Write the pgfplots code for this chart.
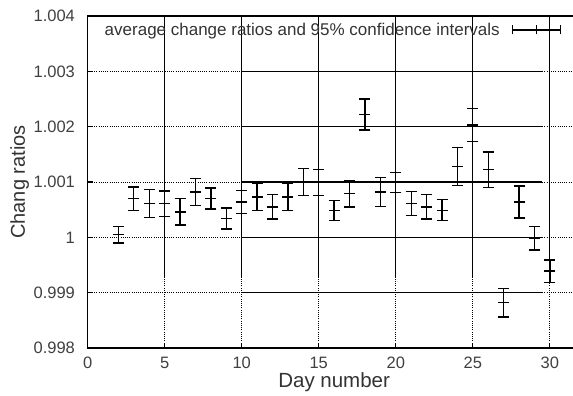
\documentclass[border=0pt]{standalone}
\usepackage{fontspec}
\setmainfont{Liberation Sans}
\usepackage{pgfplots}
\pgfplotsset{compat=1.18}
\usepackage{pgfplotstable}

\pgfplotstableread{
x y e
2 1.00005 0.00015
3 1.00070 0.00021
4 1.00061 0.00025
5 1.00061 0.00023
6 1.00046 0.00024
7 1.00082 0.00024
8 1.00070 0.00019
9 1.00034 0.00019
10 1.00064 0.00021
11 1.00073 0.00025
12 1.00055 0.00022
13 1.00073 0.00025
14 1.00100 0.00025
15 1.00099 0.00024
16 1.00049 0.00018
17 1.00079 0.00024
18 1.00222 0.00028
19 1.00082 0.00026
20 1.00099 0.00018
21 1.00061 0.00022
22 1.00055 0.00022
23 1.00049 0.00019
24 1.00128 0.00034
25 1.00203 0.00030
26 1.00122 0.00032
27 0.99882 0.00026
28 1.00064 0.00029
29 0.99998 0.00021
30 0.99939 0.00020
}\datatable

\tikzset{
  gd/.style={line width=0.9pt, dash pattern=on 0.9pt off 1.3pt, black},
  gs/.style={line width=1.1pt, black}
}

\begin{document}
\begin{tikzpicture}
\begin{axis}[
  scale only axis,
  width=493.1pt, height=332pt,
  xmin=0, xmax=32, ymin=0.998, ymax=1.004,
  xtick={0,5,10,15,20,25,30},
  xticklabels={0,5,10,15,20,25,30},
  ytick={0.998,0.999,1,1.001,1.002,1.003,1.004},
  yticklabels={0.998,0.999,1,1.001,1.002,1.003,1.004},
  tick pos=left, tick align=inside, major tick length=5pt,
  tick style={line width=1.1pt, black},
  axis line style={line width=1.3pt, black},
  ticklabel style={font=\fontsize{16.5}{18}\selectfont, inner sep=0pt, text=black!75},
  xticklabel shift=9pt, yticklabel shift=12.5pt,
  xlabel={Day number}, ylabel={Chang ratios},
  xlabel style={font=\fontsize{20.5}{22}\selectfont, at={(axis description cs:0.5,-0.1185)}, anchor=base, inner sep=0pt, text=black!80},
  ylabel style={font=\fontsize{20}{22}\selectfont, at={(axis description cs:-0.1270,0.5)}, anchor=base, inner sep=0pt, text=black!80},
  legend plot pos=right,
  legend style={at={(0.96,0.958)}, anchor=east, draw=none, fill=none, inner sep=0pt, outer sep=0pt, column sep=12pt, font=\fontsize{17}{19}\selectfont, text=black!80, nodes={inner sep=0pt}},
  legend image code/.code={
    \draw[line width=1.2pt, black] (0pt,0pt) -- (48pt,0pt);
    \draw[line width=1.2pt, black] (0pt,-4.5pt) -- (0pt,4.5pt);
    \draw[line width=1.2pt, black] (24.5pt,-4.5pt) -- (24.5pt,4.5pt);
    \draw[line width=1.2pt, black] (48pt,-4.5pt) -- (48pt,4.5pt);
  },
]
% grid: dotted and solid parts (rel axis cs: x/32, (y-0.998)/0.006)
\draw[gd] (rel axis cs:0,0.166667) -- (rel axis cs:0.3125,0.166667);
\draw[gs] (rel axis cs:0.3125,0.166667) -- (rel axis cs:0.921875,0.166667);
\draw[gd] (rel axis cs:0.921875,0.166667) -- (rel axis cs:1,0.166667);
\draw[gd] (rel axis cs:0,0.333333) -- (rel axis cs:0.3125,0.333333);
\draw[gs] (rel axis cs:0.3125,0.333333) -- (rel axis cs:0.921875,0.333333);
\draw[gd] (rel axis cs:0.921875,0.333333) -- (rel axis cs:1,0.333333);
\draw[gd] (rel axis cs:0,0.5) -- (rel axis cs:0.3125,0.5);
\draw[gs] (rel axis cs:0.3125,0.5) -- (rel axis cs:0.921875,0.5);
\draw[gd] (rel axis cs:0.921875,0.5) -- (rel axis cs:1,0.5);
\draw[gd] (rel axis cs:0,0.666667) -- (rel axis cs:0.3125,0.666667);
\draw[gs] (rel axis cs:0.3125,0.666667) -- (rel axis cs:0.921875,0.666667);
\draw[gd] (rel axis cs:0.921875,0.666667) -- (rel axis cs:1,0.666667);
\draw[gd] (rel axis cs:0,0.833333) -- (rel axis cs:0.3125,0.833333);
\draw[gs] (rel axis cs:0.3125,0.833333) -- (rel axis cs:0.921875,0.833333);
\draw[gd] (rel axis cs:0.921875,0.833333) -- (rel axis cs:1,0.833333);
\draw[gs] (rel axis cs:0.15625,0.215) -- (rel axis cs:0.15625,1);
\draw[gd] (rel axis cs:0.15625,0) -- (rel axis cs:0.15625,0.215);
\draw[gs] (rel axis cs:0.3125,0.215) -- (rel axis cs:0.3125,1);
\draw[gd] (rel axis cs:0.3125,0) -- (rel axis cs:0.3125,0.215);
\draw[gs] (rel axis cs:0.46875,0.215) -- (rel axis cs:0.46875,1);
\draw[gd] (rel axis cs:0.46875,0) -- (rel axis cs:0.46875,0.215);
\draw[gs] (rel axis cs:0.625,0.215) -- (rel axis cs:0.625,1);
\draw[gd] (rel axis cs:0.625,0) -- (rel axis cs:0.625,0.215);
\draw[gs] (rel axis cs:0.78125,0.215) -- (rel axis cs:0.78125,1);
\draw[gd] (rel axis cs:0.78125,0) -- (rel axis cs:0.78125,0.215);
\draw[gs] (rel axis cs:0.9375,0.215) -- (rel axis cs:0.9375,1);
\draw[gd] (rel axis cs:0.9375,0) -- (rel axis cs:0.9375,0.215);

\addplot[black, line width=1.3pt, only marks, mark=-, mark size=5.5pt,
  error bars/.cd, y dir=both, y explicit, error mark=-,
  error mark options={rotate=90, mark size=5.5pt, line width=1.3pt, black},
  error bar style={line width=1.3pt, black}]
  table[x=x, y=y, y error=e] {\datatable};
\addlegendentry{average change ratios and 95\% confidence intervals}
\end{axis}
\pgfresetboundingbox
\path[use as bounding box] (-87.6pt,-48pt) rectangle (485.4pt,348pt);
\end{tikzpicture}
\end{document}
